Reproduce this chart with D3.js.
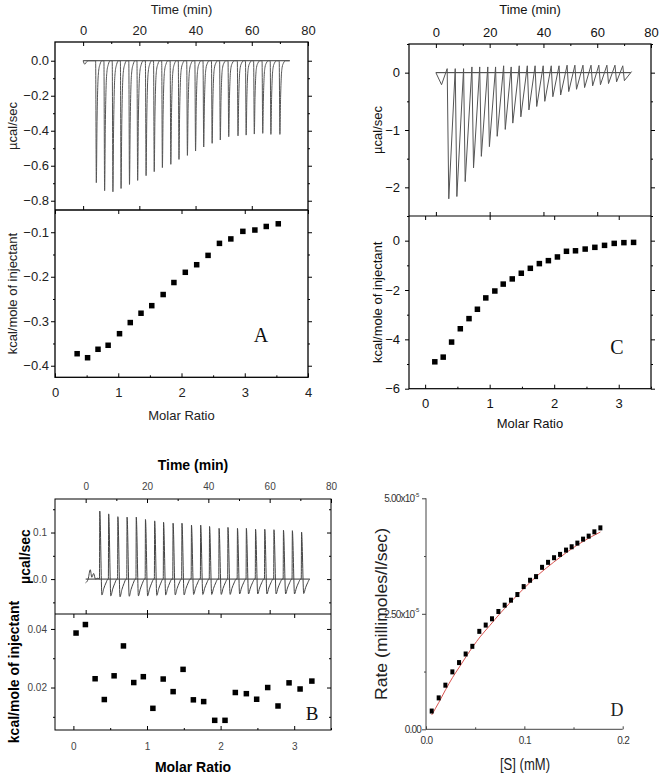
<!DOCTYPE html>
<html><head><meta charset="utf-8">
<script src="https://cdn.jsdelivr.net/npm/d3@7"></script>
<style>body{margin:0;background:#fff}svg{display:block}</style>
</head><body><svg id="c" width="661" height="777"></svg>
<script>
// ---------------- DATA ----------------
// Panel A
const timeTicks=[0,20,40,60,80];
const timeMinor=[-10,10,30,50,70];
const aInjTime=[4.7,7.65,10.6,13.5,16.5,19.4,22.4,25.3,28.2,31.2,34.1,37.1,40.0,42.9,45.9,48.8,51.8,55.1,58.0,60.9,63.9,66.8,70.0];
const aPeak=[-0.697,-0.743,-0.749,-0.730,-0.707,-0.684,-0.657,-0.634,-0.611,-0.592,-0.564,-0.541,-0.516,-0.493,-0.472,-0.453,-0.434,-0.429,-0.425,-0.419,-0.415,-0.421,-0.421];
const aRatio=[0.35,0.515,0.68,0.84,1.02,1.19,1.36,1.53,1.71,1.88,2.06,2.24,2.42,2.60,2.78,2.97,3.16,3.34,3.53];
const aHeat=[-0.373,-0.382,-0.363,-0.354,-0.328,-0.303,-0.282,-0.265,-0.240,-0.213,-0.190,-0.173,-0.152,-0.125,-0.115,-0.098,-0.095,-0.087,-0.081];
const aPowerTicks=[-0.8,-0.6,-0.4,-0.2,0.0];
const aPowerMinor=[-0.7,-0.5,-0.3,-0.1];
const aHeatTicks=[-0.4,-0.3,-0.2,-0.1];
const aHeatMinor=[-0.35,-0.25,-0.15];
const aRatioTicks=[0,1,2,3,4];
const aRatioMinor=[0.5,1.5,2.5,3.5];

// Panel C
const cInjTime=[4.8,7.8,10.9,14.0,16.9,19.9,22.8,25.8,28.6,31.6,34.6,37.5,40.5,43.5,46.4,49.4,52.3,55.3,58.3,61.2,64.2,67.2,70.1];
const cPeak=[-2.20,-2.16,-1.90,-1.66,-1.46,-1.29,-1.11,-0.99,-0.88,-0.77,-0.65,-0.59,-0.50,-0.42,-0.39,-0.33,-0.29,-0.26,-0.23,-0.21,-0.19,-0.16,-0.14];
const cTop=[0.07,0.07,0.07,0.10,0.10,0.10,0.10,0.12,0.10,0.12,0.12,0.12,0.12,0.12,0.12,0.13,0.13,0.13,0.13,0.13,0.13,0.13,0.12];
const cRatio=[0.15,0.28,0.41,0.545,0.68,0.81,0.94,1.08,1.21,1.35,1.49,1.63,1.77,1.91,2.05,2.19,2.33,2.48,2.63,2.78,2.93,3.08,3.23];
const cHeat=[-4.91,-4.72,-4.11,-3.57,-3.16,-2.78,-2.32,-2.04,-1.76,-1.55,-1.32,-1.12,-0.93,-0.81,-0.66,-0.43,-0.41,-0.34,-0.27,-0.19,-0.11,-0.08,-0.07];
const cPowerTicks=[-2,-1,0];
const cPowerMinor=[-2.5,-1.5,-0.5,0.5];
const cHeatTicks=[-6,-4,-2,0];
const cHeatMinor=[-5,-3,-1,1];
const cRatioTicks=[0,1,2,3];
const cRatioMinor=[0.5,1.5,2.5,3.5];

// Panel B
const bInjTime=[4.6,7.5,10.5,13.5,16.5,19.5,22.5,25.4,28.5,31.4,34.5,37.5,40.4,43.5,46.4,49.5,52.4,55.4,58.4,61.4,64.5,67.4,70.4];
const bPeak=[0.146,0.140,0.134,0.133,0.133,0.128,0.125,0.122,0.120,0.120,0.116,0.116,0.113,0.109,0.111,0.109,0.109,0.107,0.107,0.106,0.105,0.104,0.101];
const bDip=[-0.034,-0.036,-0.038,-0.037,-0.036,-0.036,-0.035,-0.034,-0.034,-0.034,-0.033,-0.033,-0.033,-0.033,-0.033,-0.032,-0.032,-0.032,-0.032,-0.032,-0.032,-0.032,-0.031];
const bPreT=[0,0.8,1.5,2.0,2.6,3.2,4.0];
const bPreV=[-0.008,0.0,0.02,0.004,0.012,0.0,0.002];
const bRatio=[0.036,0.163,0.295,0.42,0.553,0.68,0.82,0.95,1.08,1.22,1.355,1.49,1.63,1.77,1.92,2.06,2.20,2.35,2.49,2.64,2.78,2.93,3.08,3.24];
const bHeat=[0.0386,0.0415,0.0230,0.0159,0.0240,0.0342,0.0217,0.0237,0.0129,0.0229,0.0186,0.0262,0.0158,0.0152,0.0088,0.0088,0.0183,0.0179,0.0160,0.0200,0.0137,0.0216,0.0195,0.0222];
const bPowerTicks=[0.0,0.1];
const bPowerMinor=[-0.05,0.05,0.15];
const bHeatTicks=[0.02,0.04];
const bHeatMinor=[0.01,0.03];
const bRatioTicks=[0,1,2,3];
const bRatioMinor=[0.5,1.5,2.5,3.5];

// Panel D  (rate in units of 1e-5)
const dS=[0.0058,0.0129,0.0197,0.0268,0.0336,0.0403,0.0471,0.0542,0.0607,0.0671,0.0736,0.0800,0.0864,0.0929,0.0993,0.1058,0.1119,0.1180,0.1241,0.1302,0.1363,0.1424,0.1481,0.1539,0.1597,0.1654,0.1712,0.1773];
const dRate=[0.395,0.68,0.955,1.243,1.444,1.63,1.796,2.12,2.256,2.392,2.55,2.687,2.795,2.917,3.089,3.226,3.305,3.506,3.614,3.714,3.786,3.879,3.951,4.03,4.116,4.181,4.274,4.36];
const dFitS=[0.0058,0.013,0.02,0.027,0.034,0.041,0.048,0.055,0.065,0.075,0.085,0.1,0.115,0.13,0.145,0.16,0.1773];
const dFitV=[0.31,0.58,0.86,1.12,1.35,1.58,1.80,2.0,2.25,2.50,2.73,3.06,3.36,3.62,3.86,4.07,4.27];
const dXTicks=[0,0.1,0.2];
const dXMinor=[0.05,0.15];
const dYTicks=[0,2.5,5];
const dYMinor=[1.25,3.75];

// ---------------- DRAW ----------------
const svg=d3.select("#c");
const SANS='"Liberation Sans", Arial, sans-serif';
const SERIF='"Liberation Serif", "Times New Roman", serif';

function ax(g,axis,opt){
  g.call(axis);
  g.select(".domain").remove();
  g.selectAll("line").attr("stroke",opt.tc||"#000").attr("stroke-width",opt.tw||1);
  g.selectAll("text").attr("font-family",opt.ff||SANS).attr("font-size",opt.fs||12).attr("fill",opt.col||"#222")
   .attr("font-weight",opt.fw||"normal");
  return g;
}

function itc(p){
  const g=svg.append("g");
  const xT=d3.scaleLinear().domain([-10,80]).range([p.L,p.R]);
  const yP=d3.scaleLinear().domain(p.pDom).range([p.M,p.T]);
  const xR=d3.scaleLinear().domain(p.rDom).range([p.L,p.R]);
  const yH=d3.scaleLinear().domain(p.hDom).range([p.B,p.M]);
  const o={fs:p.tfs,col:p.tcol};
  const mk=(tr)=>g.append("g").attr("transform",tr);
  // time axis top
  ax(mk(`translate(0,${p.T})`),d3.axisTop(xT).tickValues(timeTicks).tickFormat(d3.format("d")).tickSize(-4).tickPadding(p.padT),o);
  ax(mk(`translate(0,${p.T})`),d3.axisTop(xT).tickValues(timeMinor.filter(v=>v>-10)).tickFormat("").tickSize(-2),o);
  ax(mk(`translate(0,${p.M})`),d3.axisBottom(xT).tickValues(timeTicks.filter(v=>v<80)).tickFormat("").tickSize(-4),o);
  // power axis left/right
  ax(mk(`translate(${p.L},0)`),d3.axisLeft(yP).tickValues(p.pTicks).tickFormat(d3.format(p.pFmt)).tickSize(4).tickPadding(p.padL),o);
  ax(mk(`translate(${p.L},0)`),d3.axisLeft(yP).tickValues(p.pMinor).tickFormat("").tickSize(2),o);
  ax(mk(`translate(${p.R},0)`),d3.axisRight(yP).tickValues(p.pTicks).tickFormat("").tickSize(p.rt),o);
  ax(mk(`translate(${p.R},0)`),d3.axisRight(yP).tickValues(p.pMinor).tickFormat("").tickSize(p.rt/2),o);
  // heat axis
  ax(mk(`translate(${p.L},0)`),d3.axisLeft(yH).tickValues(p.hTicks).tickFormat(d3.format(p.hFmt)).tickSize(4).tickPadding(p.padL),o);
  ax(mk(`translate(${p.L},0)`),d3.axisLeft(yH).tickValues(p.hMinor).tickFormat("").tickSize(2),o);
  ax(mk(`translate(${p.R},0)`),d3.axisRight(yH).tickValues(p.hTicks).tickFormat("").tickSize(p.rt),o);
  ax(mk(`translate(${p.R},0)`),d3.axisRight(yH).tickValues(p.hMinor).tickFormat("").tickSize(p.rt/2),o);
  // ratio axis bottom
  ax(mk(`translate(0,${p.B})`),d3.axisBottom(xR).tickValues(p.rTicks).tickFormat(d3.format("d")).tickSize(-4).tickPadding(p.padB),o);
  ax(mk(`translate(0,${p.B})`),d3.axisBottom(xR).tickValues(p.rMinor).tickFormat("").tickSize(-2),o);
  ax(mk(`translate(0,${p.M})`),d3.axisTop(xR).tickValues(p.rTicks).tickFormat("").tickSize(-4),o);
  // frames
  g.append("rect").attr("x",p.L).attr("y",p.T).attr("width",p.R-p.L).attr("height",p.B-p.T)
    .attr("fill","none").attr("stroke","#000").attr("stroke-width",p.fw);
  g.append("line").attr("x1",p.L).attr("x2",p.R).attr("y1",p.M).attr("y2",p.M).attr("stroke","#000").attr("stroke-width",p.fw);
  // baseline + trace
  g.append("path").datum([[0,0],[p.baseEnd,0]]).attr("d",d3.line().x(d=>xT(d[0])).y(d=>yP(d[1])))
    .attr("stroke","#333").attr("stroke-width",1).attr("fill","none");
  g.append("path").datum(p.trace).attr("d",d3.line().x(d=>xT(d[0])).y(d=>yP(d[1])).curve(p.curve))
    .attr("stroke",p.traceCol).attr("stroke-width",1).attr("fill","none");
  // points
  const s=p.ps;
  g.selectAll("rect.pt").data(p.ratio.map((r,i)=>[r,p.heat[i]])).join("rect").attr("class","pt")
    .attr("x",d=>xR(d[0])-s/2).attr("y",d=>yH(d[1])-s/2).attr("width",s).attr("height",s).attr("fill","#000");
  // labels
  const lab=(txt,x,y,rot,fs,fw)=>g.append("text").text(txt).attr("font-family",SANS).attr("font-size",fs).attr("font-weight",fw)
    .attr("fill",p.lcol).attr("text-anchor","middle")
    .attr("transform",`translate(${x},${y})`+(rot?" rotate(-90)":"")).attr("dy",rot?"0.35em":0);
  const cx=(p.L+p.R)/2;
  lab("Time (min)",cx,p.timeY,false,p.lfs,p.lw);
  lab("Molar Ratio",cx,p.molY,false,p.lfs,p.lw);
  lab("µcal/sec",p.uX,(p.T+p.M)/2,true,p.lfs,p.lw);
  lab("kcal/mole of injectant",p.kX,p.kY||(p.M+p.B)/2,true,p.lfs,p.lw);
  g.append("text").text(p.letter).attr("x",p.letterX).attr("y",p.letterY).attr("text-anchor","middle")
    .attr("font-family",SERIF).attr("font-size",p.letterFs).attr("fill","#111");
}

// trace builders
const aProfile=[[-0.25,0],[0,1],[0.25,0.5],[0.5,0.22],[0.8,0.09],[1.3,0.03],[2.0,0]];
const aTrace=[[0,0],[0.6,-0.02],[1.3,-0.005],[2,0]];
aInjTime.forEach((t,i)=>aProfile.forEach(([dt,f])=>aTrace.push([t+dt,aPeak[i]*f])));
aTrace.push([73.5,0]);

const cTrace=[[0,0],[2.1,-0.21]];
cInjTime.forEach((t,i)=>{cTrace.push([t-0.6,cTop[i]]);cTrace.push([t,cPeak[i]]);});
cTrace.push([72.8,0.02]);

const bTrace=bPreT.map((t,i)=>[t,bPreV[i]]);
bInjTime.forEach((t,i)=>{
  bTrace.push([t-0.1,0],[t,bPeak[i]],[t+0.7,bDip[i]],[t+1.3,bDip[i]*0.6],[t+2.0,bDip[i]*0.25],[t+2.7,0]);
});
bTrace.push([73,0]);

itc({L:55,R:308,T:42,M:210,B:377.3,pDom:[-0.853,0.107],hDom:[-0.426,-0.05],rDom:[0,4],
  pTicks:aPowerTicks,pMinor:aPowerMinor,pFmt:".1f",hTicks:aHeatTicks,hMinor:aHeatMinor,hFmt:".1f",
  rTicks:aRatioTicks,rMinor:aRatioMinor,padT:7,padL:2,padB:10,rt:4,tfs:13,tcol:"#222",fw:1.3,
  trace:aTrace,curve:d3.curveMonotoneX,traceCol:"#555",baseEnd:73.5,ratio:aRatio,heat:aHeat,ps:5.5,
  lcol:"#222",lfs:13,lw:"normal",timeY:14,molY:420,uX:12,kX:12,
  letter:"A",letterX:261,letterY:342,letterFs:20});

itc({L:409,R:651,T:44,M:216,B:388.7,pDom:[-2.5,0.5],hDom:[-6,1],rDom:[-0.25,3.5],
  pTicks:cPowerTicks,pMinor:cPowerMinor,pFmt:"d",hTicks:cHeatTicks,hMinor:cHeatMinor,hFmt:"d",
  rTicks:cRatioTicks,rMinor:cRatioMinor,padT:7,padL:5,padB:10,rt:4,tfs:13,tcol:"#111",fw:1.2,
  trace:cTrace,curve:d3.curveLinear,traceCol:"#555",baseEnd:72.5,ratio:cRatio,heat:cHeat,ps:5.5,
  lcol:"#111",lfs:13,lw:"normal",timeY:14,molY:428,uX:377,kX:377,
  letter:"C",letterX:617,letterY:354,letterFs:20});

itc({L:55,R:331,T:499,M:614,B:730,pDom:[-0.075,0.172],hDom:[0.0055,0.0451],rDom:[-0.25,3.5],
  pTicks:bPowerTicks,pMinor:bPowerMinor,pFmt:".1f",hTicks:bHeatTicks,hMinor:bHeatMinor,hFmt:".2f",
  rTicks:bRatioTicks,rMinor:bRatioMinor,padT:9,padL:4,padB:13,rt:-4,tfs:10,tcol:"#444",fw:1,
  trace:bTrace,curve:d3.curveMonotoneX,traceCol:"#444",baseEnd:73,ratio:bRatio,heat:bHeat,ps:5.5,
  lcol:"#000",lfs:14,lw:"bold",timeY:470,molY:772,uX:25,kX:14,kY:672,
  letter:"B",letterX:312,letterY:720,letterFs:19});

// Panel D
(function(){
  const g=svg.append("g");
  const x=d3.scaleLinear().domain([0,0.2]).range([426,622.7]);
  const y=d3.scaleLinear().domain([0,5]).range([729.3,498.3]);
  const o={fs:10,col:"#333",tc:"#444"};
  const xa=ax(g.append("g").attr("transform","translate(0,729.3)"),
    d3.axisBottom(x).tickValues(dXTicks).tickFormat(d3.format(".1f")).tickSize(-3).tickPadding(8),o);
  xa.selectAll("text").attr("letter-spacing","-0.6");
  ax(g.append("g").attr("transform","translate(0,729.3)"),d3.axisBottom(x).tickValues(dXMinor).tickFormat("").tickSize(-2),o);
  const ya=ax(g.append("g").attr("transform","translate(426,0)"),
    d3.axisLeft(y).tickValues(dYTicks).tickFormat(d=>d===0?"0.00":d3.format(".2f")(d)+"x10").tickSize(4).tickPadding(1),o);
  ya.selectAll("text").attr("letter-spacing","-0.8").filter(d=>d!==0)
    .append("tspan").text("-5").attr("font-size",6).attr("dy","-0.9em").attr("letter-spacing","-0.3");
  ya.selectAll("text").filter(d=>d!==0).attr("dx","-2");
  ax(g.append("g").attr("transform","translate(426,0)"),d3.axisLeft(y).tickValues(dYMinor).tickFormat("").tickSize(2),o);
  g.append("line").attr("x1",426).attr("x2",426).attr("y1",y(5)).attr("y2",y(0)).attr("stroke","#444");
  g.append("line").attr("x1",426).attr("x2",x(0.2)).attr("y1",y(0)).attr("y2",y(0)).attr("stroke","#444");
  g.append("path").datum(dFitS.map((s,i)=>[s,dFitV[i]]))
    .attr("d",d3.line().x(d=>x(d[0])).y(d=>y(d[1])).curve(d3.curveMonotoneX))
    .attr("fill","none").attr("stroke","#d9534f").attr("stroke-width",1);
  g.selectAll("rect.pt").data(dS.map((s,i)=>[s,dRate[i]])).join("rect").attr("class","pt")
    .attr("x",d=>x(d[0])-2).attr("y",d=>y(d[1])-2.5).attr("width",4).attr("height",5).attr("fill","#000");
  g.append("text").text("Rate (millimoles/l/sec)").attr("font-family",SANS).attr("font-size",17).attr("fill","#222")
    .attr("text-anchor","middle").attr("transform","translate(381,614) rotate(-90)").attr("dy","0.35em")
    .attr("textLength",172).attr("lengthAdjust","spacingAndGlyphs");
  g.append("text").text("[S] (mM)").attr("font-family",SANS).attr("font-size",17).attr("fill","#222")
    .attr("text-anchor","middle").attr("x",525).attr("y",770).attr("textLength",50).attr("lengthAdjust","spacingAndGlyphs");
  g.append("text").text("D").attr("x",617).attr("y",716).attr("text-anchor","middle")
    .attr("font-family",SERIF).attr("font-size",18).attr("fill","#222");
})();
</script>
</body></html>
